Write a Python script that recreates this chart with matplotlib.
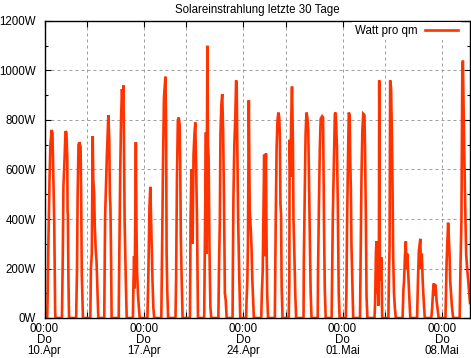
import matplotlib
matplotlib.use("Agg")
import matplotlib.pyplot as plt
from matplotlib.ticker import FixedLocator, FuncFormatter, MultipleLocator

plt.rcParams['font.family'] = ['Liberation Sans', 'DejaVu Sans']

# Solar irradiation, 30 days from Thu 10.Apr 00:00; per day: hour of day -> W/m2
day_hours = [
    [0, 4.5, 5, 6.5, 8.5, 10, 12, 13.5, 14.5, 16.5, 18, 18.5],
    [5.5, 7, 8, 10, 11.5, 13, 14.5, 15, 15.5, 16.5, 17.5],
    [5.5, 7, 8, 9.5, 11, 13, 14, 15, 17],
    [5.5, 6.5, 8, 9.5, 10.5, 12, 13, 14.5, 16, 17.5, 19],
    [5, 6.5, 8, 9.5, 11, 12, 13.5, 14.5, 15.5, 16.5, 17.5],
    [5.5, 6, 8, 9.5, 11, 12, 13.5, 14.5, 15.5, 17.5, 19],
    [5.5, 6.5, 7.5, 8.5, 9.5, 10.5, 11.5, 12.5, 14, 15.5, 17],
    [6, 7.5, 8.5, 9.5, 11, 12.5, 13.5, 14.5, 16, 17.5],
    [5.5, 6, 7, 8.5, 10, 11.5, 12.5, 13.5, 14.5, 15.5, 17],
    [5.5, 6.5, 8, 9.5, 11, 12.5, 13.5, 14.5, 16, 17.5],
    [6, 7, 8.5, 9.5, 10.5, 12, 13.5, 15, 16.5, 18, 19.5],
    [6, 7.5, 9, 10, 10.5, 11.5, 12.5, 13.5, 15, 16.5, 18],
    [6, 7, 8.5, 9.5, 11, 12.5, 14, 15.5, 17, 18.5, 20],
    [6, 6.5, 7.5, 9, 10.5, 12, 13, 14, 15.5, 17.5, 19],
    [5, 5.5, 7, 8, 9.5, 11, 12.5, 14, 15.5, 16.5, 18],
    [6.5, 7.5, 9, 10.5, 11.5, 12.5, 13.5, 14.5, 15.5, 16.5, 18],
    [5.5, 7, 8.5, 10, 11.5, 13, 14, 15, 16, 17, 18.5],
    [5, 6, 6.5, 8, 9, 10.5, 12, 13, 14.5, 16, 17.5],
    [6, 6.5, 8, 9.5, 11, 12.5, 14, 15, 16, 18, 19.5],
    [6, 6.5, 8, 9.5, 11, 13.5, 15, 16, 17, 18, 19.5],
    [5.5, 6, 7.5, 9.5, 11, 12.5, 14.5, 16, 17.5, 19],
    [5.5, 6.5, 7.5, 9, 10.5, 12, 13, 14, 15, 16.5, 18],
    [5.5, 7, 8, 9.5, 11, 13, 14, 15.5, 16.5, 18],
    [6, 7, 8.5, 9.5, 10.5, 11.5, 12.5, 13.5, 14, 15, 16, 17.5, 19],
    [5.5, 6.5, 7.5, 8.5, 10, 11.5, 12.5, 13.5, 15, 16.5, 18],
    [5.5, 7, 8, 9.5, 11, 12, 13.5, 15, 16.5, 18.5],
    [6, 7.5, 9, 10.5, 11.5, 12.5, 14, 15.5, 17, 19],
    [6, 7.5, 9, 10.5, 11.5, 12.5, 13.5, 15, 16.5, 18.5],
    [6, 7, 8, 9.5, 10.5, 12, 13, 14, 15.5, 17, 19],
    [6, 7.5, 9, 10.5, 11.5, 12.5, 14, 15.5, 17, 18.5, 20.5, 23.5],
]
day_watts = [
    [0, 0, 40, 290, 560, 700, 760, 745, 620, 380, 30, 0],
    [0, 270, 530, 650, 755, 750, 650, 430, 420, 150, 0],
    [0, 200, 490, 700, 710, 690, 490, 180, 0],
    [0, 200, 260, 735, 560, 500, 370, 280, 230, 120, 0],
    [0, 410, 540, 660, 760, 820, 720, 500, 450, 260, 0],
    [0, 140, 580, 810, 925, 865, 940, 640, 390, 150, 0],
    [0, 150, 250, 120, 390, 710, 370, 190, 100, 45, 0],
    [0, 160, 300, 450, 530, 370, 250, 160, 45, 0],
    [0, 100, 310, 650, 890, 940, 975, 810, 260, 120, 0],
    [0, 150, 570, 800, 810, 780, 620, 330, 150, 0],
    [0, 400, 600, 480, 300, 660, 740, 790, 600, 370, 0],
    [0, 360, 750, 260, 650, 1100, 700, 650, 270, 45, 0],
    [0, 190, 400, 740, 860, 905, 760, 480, 100, 70, 0],
    [0, 200, 490, 700, 800, 960, 940, 700, 390, 150, 0],
    [0, 60, 150, 300, 880, 440, 370, 290, 150, 90, 0],
    [0, 100, 190, 460, 660, 250, 600, 665, 300, 100, 0],
    [0, 390, 690, 800, 830, 810, 730, 460, 420, 125, 0],
    [0, 150, 720, 570, 780, 935, 720, 400, 260, 100, 0],
    [0, 230, 490, 745, 830, 810, 760, 600, 440, 110, 0],
    [0, 180, 450, 680, 805, 815, 810, 530, 300, 110, 0],
    [0, 100, 410, 650, 825, 830, 690, 450, 100, 0],
    [0, 100, 350, 610, 830, 820, 640, 520, 300, 150, 0],
    [0, 340, 570, 760, 825, 820, 680, 390, 90, 0],
    [0, 60, 270, 310, 100, 230, 50, 230, 960, 260, 150, 245, 0],
    [0, 180, 290, 960, 930, 730, 530, 260, 100, 40, 0],
    [0, 120, 150, 250, 310, 200, 260, 180, 100, 0],
    [0, 150, 270, 300, 320, 200, 260, 150, 80, 0],
    [0, 40, 110, 140, 90, 135, 120, 70, 40, 0],
    [0, 120, 230, 330, 385, 310, 250, 150, 100, 45, 0],
    [0, 220, 390, 1000, 1040, 880, 640, 435, 260, 205, 150, 60],
]

major_days = [0, 7, 14, 21, 28]
minor_days = [3, 10, 17, 24]
tick_labels = ["00:00\nDo\n10.Apr", "00:00\nDo\n17.Apr", "00:00\nDo\n24.Apr",
               "00:00\nDo\n01.Mai", "00:00\nDo\n08.Mai"]

t = []
w = []
for d in range(len(day_hours)):
    for h, v in zip(day_hours[d], day_watts[d]):
        t.append(d + h / 24.0)
        w.append(v)

fig = plt.figure(figsize=(4.71, 3.58), dpi=100)
ax = fig.add_axes([44.5 / 471, 1 - 318 / 358, 425.8 / 471, 297 / 358])

ax.plot(t, w, color='#ff3300', lw=1.9, label='Watt pro qm', solid_joinstyle='miter')

ax.set_xlim(0, 30)
ax.set_ylim(0, 1200)
ax.set_title("Solareinstrahlung letzte 30 Tage", fontsize=8.3, pad=6)

ax.xaxis.set_major_locator(FixedLocator(major_days))
ax.xaxis.set_minor_locator(FixedLocator(minor_days))
ax.set_xticklabels(tick_labels, fontsize=8.3, linespacing=0.88)
ax.yaxis.set_major_locator(MultipleLocator(200))
ax.yaxis.set_minor_locator(MultipleLocator(100))
ax.yaxis.set_major_formatter(FuncFormatter(lambda v, p: "%dW" % v))

ax.tick_params(which='both', direction='in', top=True, right=True, width=0.8)
ax.tick_params(axis='x', which='both', length=4.3, pad=3.5)
ax.tick_params(axis='y', which='major', length=4.3, pad=6, labelsize=8.3)
ax.tick_params(axis='y', which='minor', length=2.2)

grid_kw = dict(color='#a0a0a0', lw=0.72, linestyle=(0, (3, 3)))
ax.grid(True, which='both', axis='x', **grid_kw)
ax.grid(True, which='major', axis='y', **grid_kw)
ax.set_axisbelow(True)
for s in ax.spines.values():
    s.set_linewidth(1.0)

leg = ax.legend(loc='upper right', bbox_to_anchor=(0.977, 0.997), borderaxespad=0,
                borderpad=0.25, handlelength=2.8, handletextpad=0.7, markerfirst=False,
                fontsize=8.3, frameon=True, fancybox=False, framealpha=1)
leg.get_frame().set_facecolor('white')
leg.get_frame().set_edgecolor('none')

fig.savefig("out.png", dpi=100)
